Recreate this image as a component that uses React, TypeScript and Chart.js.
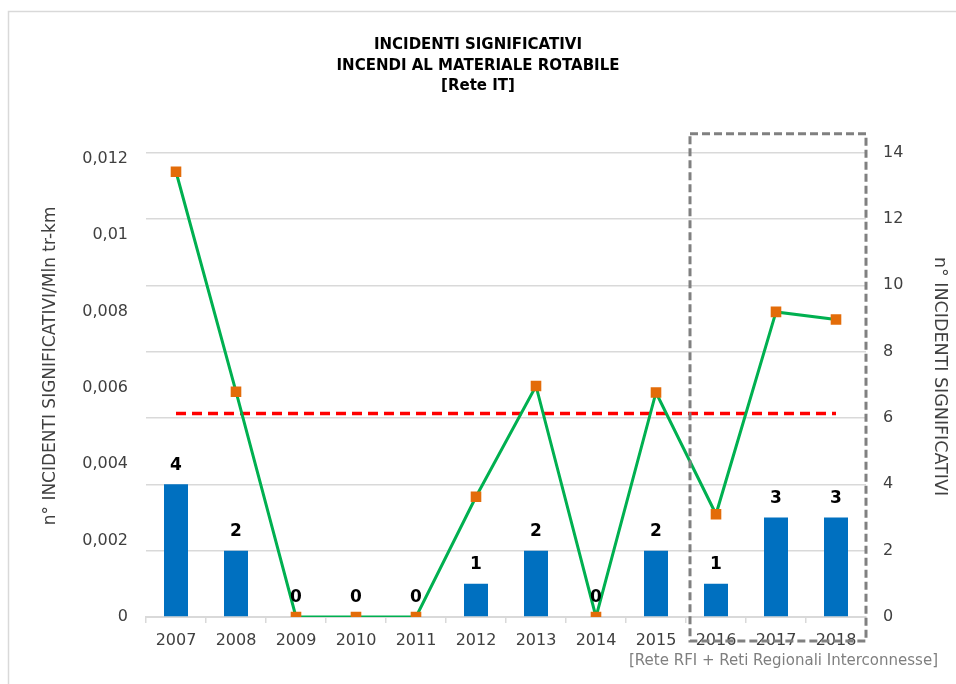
import React, { useEffect, useRef } from "react";
import { Chart, registerables } from "chart.js";

Chart.register(...registerables);

const years = ["2007", "2008", "2009", "2010", "2011", "2012", "2013", "2014", "2015", "2016", "2017", "2018"];
const incidentCounts = [4, 2, 0, 0, 0, 1, 2, 0, 2, 1, 3, 3];
const incidentRates = [0.01166, 0.0059, 0, 0, 0, 0.00315, 0.00605, 0, 0.00588, 0.00269, 0.00799, 0.00779];
const referenceRate = [0.00533, 0.00533, 0.00533, 0.00533, 0.00533, 0.00533, 0.00533, 0.00533, 0.00533, 0.00533, 0.00533, 0.00533];
const leftTickValues = [0, 0.002, 0.004, 0.006, 0.008, 0.01, 0.012];
const titleLines = ["INCIDENTI SIGNIFICATIVI", "INCENDI AL MATERIALE ROTABILE", "[Rete IT]"];
const leftAxisTitle = "       n° INCIDENTI SIGNIFICATIVI/Mln tr-km";
const rightAxisTitle = "n° INCIDENTI SIGNIFICATIVI   ";
const footnote = "[Rete RFI + Reti Regionali Interconnesse]";
const highlightStartIndex = 9;

const FONT = "'DejaVu Sans', sans-serif";

const decorPlugin = {
  id: "decor",
  beforeDraw(chart: any) {
    const ctx = chart.ctx;
    ctx.save();
    ctx.fillStyle = "#ffffff";
    ctx.fillRect(0, 0, chart.width, chart.height);
    ctx.strokeStyle = "#D9D9D9";
    ctx.lineWidth = 1.5;
    ctx.beginPath();
    ctx.moveTo(8.5, chart.height);
    ctx.lineTo(8.5, 11.5);
    ctx.lineTo(chart.width, 11.5);
    ctx.stroke();
    ctx.restore();
  },
  afterDatasetsDraw(chart: any) {
    const ctx = chart.ctx;
    const meta = chart.getDatasetMeta(0);
    ctx.save();
    ctx.font = `bold 17px ${FONT}`;
    ctx.fillStyle = "#000000";
    ctx.textAlign = "center";
    ctx.textBaseline = "middle";
    meta.data.forEach((bar: any, i: number) => {
      ctx.fillText(String(incidentCounts[i]), bar.x, bar.y - 19);
    });
    ctx.restore();
  },
  afterDraw(chart: any) {
    const ctx = chart.ctx;
    const x = chart.scales.x;
    const area = chart.chartArea;
    const half = (x.getPixelForValue(1) - x.getPixelForValue(0)) / 2;
    const left = x.getPixelForValue(highlightStartIndex) - half + 4;
    const right = area.right;
    const top = area.top - 19;
    const bottom = area.bottom + 24;
    ctx.save();
    ctx.strokeStyle = "#808080";
    ctx.lineWidth = 3;
    ctx.setLineDash([8, 4]);
    ctx.strokeRect(left, top, right - left, bottom - top);
    ctx.setLineDash([]);
    ctx.font = `15px ${FONT}`;
    ctx.fillStyle = "#7F7F7F";
    ctx.textAlign = "right";
    ctx.textBaseline = "middle";
    ctx.fillText(footnote, 938, 661);
    ctx.restore();
  },
};

export default function App() {
  const ref = useRef<HTMLCanvasElement | null>(null);

  useEffect(() => {
    if (!ref.current) return;
    const chart = new Chart(ref.current, {
      type: "bar",
      data: {
        labels: years,
        datasets: [
          {
            type: "bar",
            label: "n° incidenti",
            data: incidentCounts,
            backgroundColor: "#0070C0",
            borderWidth: 0,
            yAxisID: "y1",
            barPercentage: 0.8,
            categoryPercentage: 0.5,
            order: 3,
          },
          {
            type: "line",
            label: "riferimento",
            data: referenceRate,
            borderColor: "#FF0000",
            borderWidth: 3.5,
            borderDash: [10, 6],
            pointRadius: 0,
            fill: false,
            yAxisID: "y",
            order: 2,
          },
          {
            type: "line",
            label: "tasso",
            data: incidentRates,
            borderColor: "#00B050",
            borderWidth: 3,
            pointStyle: "rect",
            pointRadius: 7.5,
            pointBackgroundColor: "#E36C09",
            pointBorderColor: "#E36C09",
            pointBorderWidth: 0,
            fill: false,
            tension: 0,
            yAxisID: "y",
            order: 1,
          },
        ],
      },
      options: {
        animation: false,
        responsive: false,
        maintainAspectRatio: false,
        layout: { padding: { left: 0, right: 0, top: 0, bottom: 0 } },
        plugins: {
          legend: { display: false },
          tooltip: { enabled: false },
          title: {
            display: true,
            text: titleLines,
            color: "#000000",
            font: { family: FONT, size: 15, weight: "bold", lineHeight: 1.37 },
            padding: { top: 35, bottom: 56 },
          },
        },
        scales: {
          x: {
            grid: { display: true, drawOnChartArea: false, drawTicks: true, tickLength: 6, color: "#D9D9D9", lineWidth: 1.5 },
            border: { display: true, color: "#D9D9D9", width: 2 },
            ticks: { color: "#404040", font: { family: FONT, size: 16 }, padding: 8, maxRotation: 0 },
            afterFit: (s: any) => {
              s.height = 67;
            },
          },
          y: {
            position: "left",
            min: 0,
            max: 0.01216,
            grid: { display: false, drawTicks: false },
            border: { display: false },
            ticks: {
              color: "#404040",
              font: { family: FONT, size: 16 },
              padding: 18,
              callback: (v: any) => (v === 0 ? "0" : String(Number(Number(v).toFixed(3))).replace(".", ",")),
            },
            afterBuildTicks: (s: any) => {
              s.ticks = leftTickValues.map((v) => ({ value: v }));
            },
            title: {
              display: true,
              text: leftAxisTitle,
              color: "#404040",
              font: { family: FONT, size: 17 },
              padding: { top: 40, bottom: 0 },
            },
            afterFit: (s: any) => {
              s.width = 146;
            },
          },
          y1: {
            position: "right",
            min: 0,
            max: 14,
            grid: { display: true, drawOnChartArea: true, drawTicks: false, color: "#D9D9D9", lineWidth: 1.5 },
            border: { display: false },
            ticks: { stepSize: 2, color: "#404040", font: { family: FONT, size: 16 }, padding: 17 },
            title: {
              display: true,
              text: rightAxisTitle,
              color: "#404040",
              font: { family: FONT, size: 17.5 },
              padding: { top: 6, bottom: 0 },
            },
            afterFit: (s: any) => {
              s.width = 90;
            },
          },
        },
      },
      plugins: [decorPlugin],
    } as any);
    return () => chart.destroy();
  }, []);

  return (
    <div style={{ position: "fixed", left: 0, top: 0, width: 956, height: 684 }}>
      <canvas ref={ref} width={956} height={684} style={{ width: 956, height: 684, display: "block" }} />
    </div>
  );
}
